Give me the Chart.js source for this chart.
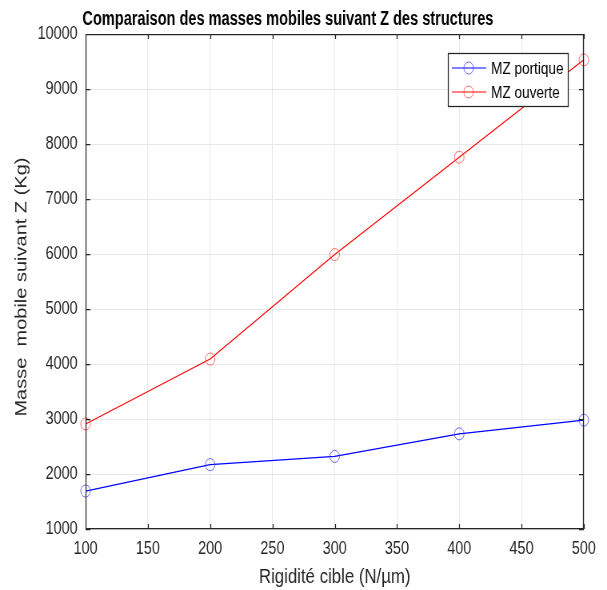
<!DOCTYPE html>
<html>
<head>
<meta charset="utf-8">
<script src="https://cdn.jsdelivr.net/npm/chart.js@4/dist/chart.umd.min.js"></script>
<style>
  html, body { margin: 0; padding: 0; background: #fff; overflow: hidden; }
  #wrap { width: 607px; height: 590px; }
</style>
</head>
<body>
<div id="wrap"><canvas id="chart" width="759" height="590" style="width:607px;height:590px;display:block"></canvas></div>
<script>
// Data
var rigidite = [100, 200, 300, 400, 500];
var mzPortique = [1690, 2170, 2320, 2730, 2980];
var mzOuverte = [2910, 4090, 5990, 7760, 9530];
var xTicks = [100, 150, 200, 250, 300, 350, 400, 450, 500];
var yTicks = [1000, 2000, 3000, 4000, 5000, 6000, 7000, 8000, 9000, 10000];

// The original figure is squeezed sideways: the canvas is drawn 759 wide
// and shown 607 wide.
var FONT = "'Liberation Sans', Arial, Helvetica, sans-serif";
var AXIS_COLOR = '#262626';

function toXY(xs, ys) {
    return xs.map(function (x, i) { return { x: x, y: ys[i] }; });
}

// Box, inward ticks, title and legend drawn MATLAB-style.
var matlabDecor = {
    id: 'matlabDecor',
    afterDraw: function (chart) {
        var ctx = chart.ctx, a = chart.chartArea;
        var xs = chart.scales.x, ys = chart.scales.y;
        ctx.save();
        ctx.strokeStyle = AXIS_COLOR;
        ctx.lineWidth = 1.25;
        ctx.beginPath();
        ctx.rect(a.left + 0.5, a.top + 0.5, a.right - a.left - 1, a.bottom - a.top - 1);
        xTicks.forEach(function (t) {
            var px = Math.round(xs.getPixelForValue(t)) + 0.5;
            ctx.moveTo(px, a.bottom); ctx.lineTo(px, a.bottom - 5);
            ctx.moveTo(px, a.top); ctx.lineTo(px, a.top + 5);
        });
        yTicks.forEach(function (t) {
            var py = Math.round(ys.getPixelForValue(t)) + 0.5;
            ctx.moveTo(a.left, py); ctx.lineTo(a.left + 6, py);
            ctx.moveTo(a.right, py); ctx.lineTo(a.right - 6, py);
        });
        ctx.stroke();

        // Title (a bit narrower than the plain font, like the original)
        ctx.save();
        ctx.translate(360, 19);
        ctx.scale(0.91, 1);
        ctx.fillStyle = '#000';
        ctx.font = "bold 20px " + FONT;
        ctx.textAlign = 'center';
        ctx.textBaseline = 'middle';
        ctx.fillText('Comparaison des masses mobiles suivant Z des structures', 0, 0);
        ctx.restore();

        // Legend box inside the axes
        var lx = 560, ly = 53, lw = 150, lh = 53;
        ctx.fillStyle = '#fff';
        ctx.fillRect(lx, ly, lw, lh);
        ctx.lineWidth = 1.25;
        ctx.strokeStyle = '#262626';
        ctx.strokeRect(lx + 0.5, ly + 0.5, lw, lh);
        ctx.font = "17px " + FONT;
        ctx.textAlign = 'left';
        ctx.textBaseline = 'middle';
        chart.data.datasets.forEach(function (ds, i) {
            var cy = ly + 15 + i * 24;
            ctx.lineWidth = 1;
            ctx.strokeStyle = ds.borderColor;
            ctx.beginPath();
            ctx.moveTo(lx + 5, cy); ctx.lineTo(lx + 48, cy);
            ctx.stroke();
            ctx.strokeStyle = ds.pointBorderColor;
            ctx.beginPath();
            ctx.arc(lx + 26, cy, 6, 0, Math.PI * 2);
            ctx.stroke();
            ctx.fillStyle = '#000';
            ctx.fillText(ds.label, lx + 54, cy + 1);
        });
        ctx.restore();
    }
};

new Chart(document.getElementById('chart'), {
    type: 'line',
    data: {
        datasets: [{
            label: 'MZ portique',
            data: toXY(rigidite, mzPortique),
            borderColor: '#0000ff',
            borderWidth: 1.2,
            pointStyle: 'circle',
            pointRadius: 6,
            pointBorderColor: 'rgba(70,70,255,0.8)',
            pointBackgroundColor: 'rgba(0,0,0,0)',
            pointBorderWidth: 1,
            tension: 0
        }, {
            label: 'MZ ouverte',
            data: toXY(rigidite, mzOuverte),
            borderColor: '#ff0000',
            borderWidth: 1.2,
            pointStyle: 'circle',
            pointRadius: 6,
            pointBorderColor: 'rgba(255,70,70,0.8)',
            pointBackgroundColor: 'rgba(0,0,0,0)',
            pointBorderWidth: 1,
            tension: 0
        }]
    },
    options: {
        responsive: false,
        animation: false,
        clip: false,
        layout: { padding: { top: 34, right: 29, left: 0, bottom: 0 } },
        plugins: {
            legend: { display: false },
            title: { display: false },
            tooltip: { enabled: false }
        },
        scales: {
            x: {
                type: 'linear',
                min: 100,
                max: 500,
                afterBuildTicks: function (s) { s.ticks = xTicks.map(function (v) { return { value: v }; }); },
                afterFit: function (s) { s.height = 61; },
                grid: { color: '#e8e8e8', drawTicks: false },
                border: { display: false },
                ticks: {
                    color: AXIS_COLOR,
                    font: { family: FONT, size: 18 },
                    padding: 9,
                    maxRotation: 0,
                    callback: function (v) { return String(v); }
                },
                title: {
                    display: true,
                    text: 'Rigidité cible (N/µm)',
                    color: AXIS_COLOR,
                    font: { family: FONT, size: 21 },
                    padding: { top: 0, bottom: 0 }
                }
            },
            y: {
                type: 'linear',
                min: 1000,
                max: 10000,
                afterBuildTicks: function (s) { s.ticks = yTicks.map(function (v) { return { value: v }; }); },
                afterFit: function (s) { s.width = 107; },
                grid: { color: '#e8e8e8', drawTicks: false },
                border: { display: false },
                ticks: {
                    color: AXIS_COLOR,
                    font: { family: FONT, size: 18 },
                    padding: 10,
                    callback: function (v) { return String(v); }
                },
                title: {
                    display: true,
                    text: 'Masse  mobile suivant Z (Kg)  ',
                    color: AXIS_COLOR,
                    font: { family: FONT, size: 20 },
                    padding: { top: 15, bottom: 0 }
                }
            }
        }
    },
    plugins: [matlabDecor]
});
</script>
</body>
</html>
